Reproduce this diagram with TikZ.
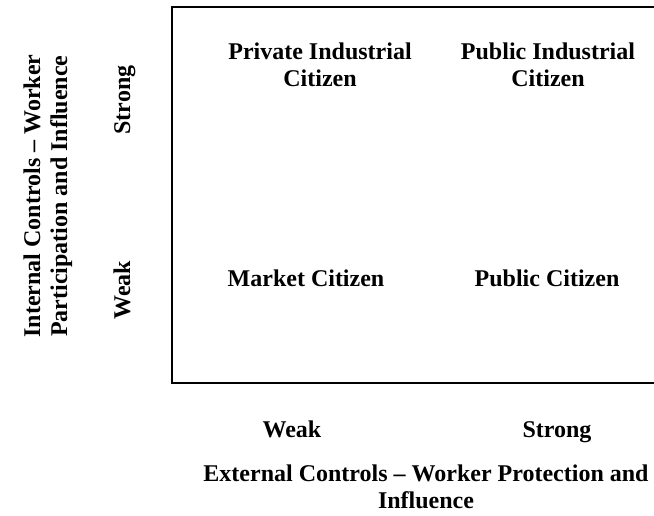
\documentclass[tikz,border=0pt]{standalone}
\usepackage{fontspec}
\setmainfont{Liberation Serif}
\begin{document}
\begin{tikzpicture}[x=1pt,y=-1pt,
  lbl/.style={font=\fontsize{24}{27}\selectfont\bfseries, inner sep=0pt, align=center, anchor=base}]
\useasboundingbox (0,0) rectangle (654,516);
\coordinate (tr) at (654,7.5);
\coordinate (tl) at (172,7.5);
\coordinate (bl) at (172,383);
\coordinate (br) at (654,383);
\draw[line width=2pt] (tr) -- (tl) -- (bl) -- (br);
\node[lbl] (pic) at (320,87) {Private Industrial\\Citizen};
\node[lbl] (puic) at (548,87) {Public Industrial\\Citizen};
\node[lbl] (mc) at (306,287) {Market Citizen};
\node[lbl] (pc) at (547,287) {Public Citizen};
\node[lbl] (xw) at (292,437) {Weak};
\node[lbl] (xs) at (557,437) {Strong};
\node[lbl] (xt) at (426,508) {External Controls -- Worker Protection and\\Influence};
\node[lbl, rotate=90] (yw) at (130,290) {Weak};
\node[lbl, rotate=90] (ys) at (130,100) {Strong};
\node[lbl, rotate=90] (yt) at (67,196) {Internal Controls -- Worker\\Participation and Influence};
\end{tikzpicture}
\end{document}
